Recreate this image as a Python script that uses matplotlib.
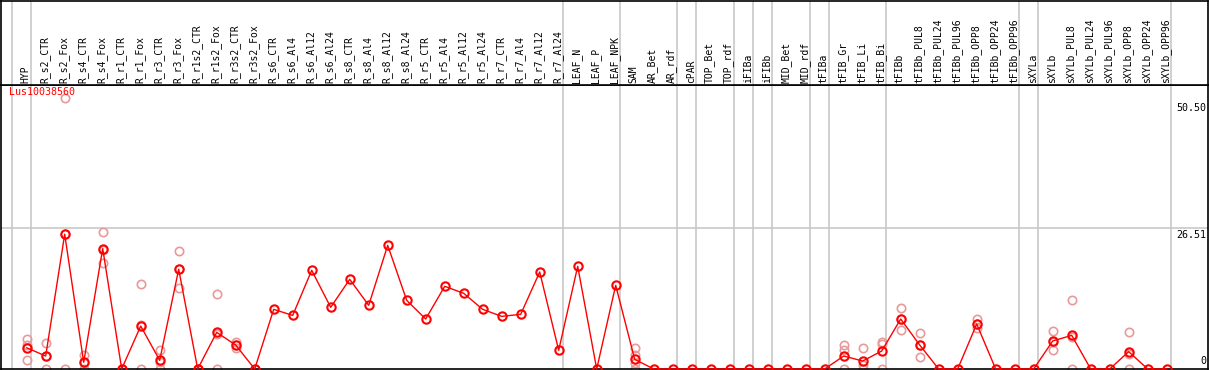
import numpy as np
import matplotlib
matplotlib.use("Agg")
import matplotlib.pyplot as plt
import matplotlib.transforms as mtransforms

gene = "Lus10038560"

samples = ["HYP", "R_s2_CTR", "R_s2_Fox", "R_s4_CTR", "R_s4_Fox", "R_r1_CTR", "R_r1_Fox",
           "R_r3_CTR", "R_r3_Fox", "R_r1s2_CTR", "R_r1s2_Fox", "R_r3s2_CTR", "R_r3s2_Fox",
           "R_s6_CTR", "R_s6_Al4", "R_s6_Al12", "R_s6_Al24", "R_s8_CTR", "R_s8_Al4",
           "R_s8_Al12", "R_s8_Al24", "R_r5_CTR", "R_r5_Al4", "R_r5_Al12", "R_r5_Al24",
           "R_r7_CTR", "R_r7_Al4", "R_r7_Al12", "R_r7_Al24", "LEAF_N", "LEAF_P", "LEAF_NPK",
           "SAM", "AR_Bet", "AR_rdf", "cPAR", "TOP_Bet", "TOP_rdf", "iFIBa", "iFIBb",
           "MID_Bet", "MID_rdf", "tFIBa", "tFIB_Gr", "tFIB_Li", "tFIB_Bi", "tFIBb",
           "tFIBb_PUL8", "tFIBb_PUL24", "tFIBb_PUL96", "tFIBb_OPP8", "tFIBb_OPP24",
           "tFIBb_OPP96", "sXYLa", "sXYLb", "sXYLb_PUL8", "sXYLb_PUL24", "sXYLb_PUL96",
           "sXYLb_OPP8", "sXYLb_OPP24", "sXYLb_OPP96"]

means = [4.0, 2.45, 25.4, 1.26, 22.7, 0, 8.1, 1.63, 18.8, 0, 6.9, 4.52, 0,
         11.24, 10.1, 18.6, 11.62, 16.9, 12.0, 23.3, 12.94, 9.42, 15.58, 14.26, 11.24,
         9.92, 10.3, 18.28, 3.52, 19.35, 0, 15.77,
         1.82, 0, 0, 0, 0, 0, 0, 0, 0, 0, 0, 2.45, 1.5, 3.39, 9.42,
         4.52, 0, 0, 8.48, 0, 0, 0, 5.28, 6.34, 0, 0, 3.27, 0, 0]

replicates = [[5.65, 4.5, 1.63], [4.84, 2.5, 0], [51.0, 25.4, 0], [2.64, 1.1, 0],
              [25.75, 22.4, 19.9], [0], [16.1, 8.2, 0], [3.58, 1.3, 0], [22.3, 18.9, 15.2],
              [0], [14.07, 6.6, 0], [5.0, 4.6, 3.9], [0],
              [], [], [], [], [], [], [], [], [], [], [], [], [], [], [], [], [], [], [],
              [4.02, 2.64, 1.07, 0], [], [], [], [], [], [], [], [], [], [],
              [4.52, 3.6, 0], [4.02, 0.7, 0], [5.0, 4.65, 0], [11.43, 9.4, 7.35],
              [6.72, 4.5, 2.32], [], [], [9.42, 8.5, 7.66], [], [], [],
              [7.16, 5.1, 3.58], [13.0, 6.0, 0], [], [], [6.97, 2.8, 0], [], []]

# group separators sit just after these sample indices
group_ends = [-1, 0, 28, 31, 34, 35, 37, 38, 39, 41, 42, 45, 52, 53, 60]
ytick_vals = [50.50, 26.51, 0]

W, H = 1209, 370
fig = plt.figure(figsize=(W / 100, H / 100), dpi=100)
x0, x1 = 1, 1208
top_px, div_px, bot_px = 0.5, 85, 369
ax = fig.add_axes([x0 / W, (H - bot_px) / H, (x1 - x0) / W, (bot_px - div_px) / H])
hd = fig.add_axes([x0 / W, (H - div_px) / H, (x1 - x0) / W, (div_px - top_px) / H])

step = 19.0
xlim = ((x0 - 26.7) / step, (x1 - 26.7) / step)
pxu = 5.307
for a in (ax, hd):
    a.set_xlim(*xlim)
    a.set_xticks([])
    a.set_yticks([])
    for s in a.spines.values():
        s.set_color("black")
        s.set_linewidth(1.2)
ax.set_ylim(0, (bot_px - div_px) / pxu)
hd.set_ylim(0, 1)

sep_x = np.array(group_ends) + 4 / step
for a in (ax, hd):
    for sx in sep_x:
        a.axvline(sx, color="#c8c8c8", lw=1.2, zorder=1)
ax.axhline(26.51, color="#c8c8c8", lw=1.2, zorder=1)

mono = "DejaVu Sans Mono"
x = np.arange(len(samples))
for i, reps in enumerate(replicates):
    if reps:
        ax.plot([i] * len(reps), reps, "o", ms=6, mfc="none", mec="#e89a9a",
                mew=1.2, clip_on=False, zorder=2)
ax.plot(x, means, "-", color="red", lw=1.0, zorder=3, clip_on=False)
ax.plot(x, means, "o", ms=6, mfc="none", mec="red", mew=1.5, zorder=4, clip_on=False)

trans = mtransforms.blended_transform_factory(hd.transData, hd.transAxes)
for i, name in enumerate(samples):
    hd.text(i - 0.05, 2.5 / 85, name, rotation=90, ha="center", va="bottom",
            family=mono, fontsize=7, transform=trans)

ax.text(8 / (x1 - x0), 1 - 7 / (bot_px - div_px), gene, color="red", family=mono,
        fontsize=7.2, transform=ax.transAxes, ha="left", va="center")

rtrans = mtransforms.blended_transform_factory(ax.transAxes, ax.transData)
for v in ytick_vals:
    lab = "0" if v == 0 else "%.2f" % v
    ax.text(0.9985, v + (0.6 if v == 0 else -0.4), lab, family=mono, fontsize=7.2,
            ha="right", va="bottom" if v == 0 else "top", transform=rtrans)

fig.savefig("out.png", dpi=100)
